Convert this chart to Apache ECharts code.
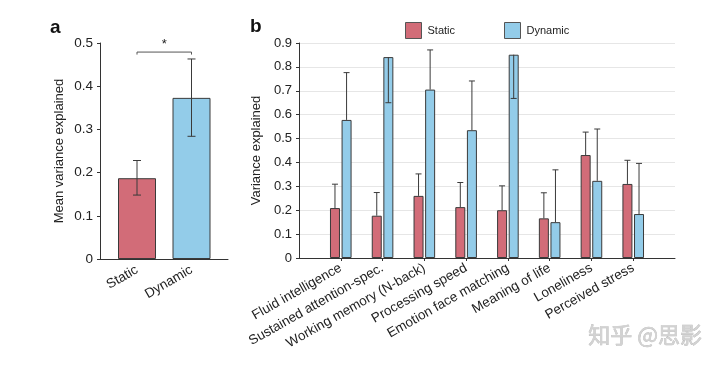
<!DOCTYPE html>
<html>
<head>
<meta charset="utf-8">
<script src="https://cdn.jsdelivr.net/npm/echarts@6/dist/echarts.min.js"></script>
<style>html,body{margin:0;padding:0;background:#fff;}#c{width:720px;height:368px;}</style>
</head>
<body>
<div id="c"></div>
<script>
// ---- Panel a data ----
const aCategories = ['Static', 'Dynamic'];
const aMeans = [0.187, 0.373];
const aErrLow = [0.148, 0.284];
const aErrHigh = [0.228, 0.463];
const aSigLevel = 0.479;
const aSigLabel = '*';

// ---- Panel b data ----
const bCategories = ['Fluid intelligence', 'Sustained attention-spec.', 'Working memory (N-back)', 'Processing speed', 'Emotion face matching', 'Meaning of life', 'Loneliness', 'Perceived stress'];
const bStatic = [0.209, 0.177, 0.260, 0.213, 0.200, 0.166, 0.431, 0.310];
const bStaticErr = [0.309, 0.274, 0.352, 0.316, 0.302, 0.273, 0.527, 0.409];
const bDynamic = [0.578, 0.841, 0.705, 0.535, 0.851, 0.150, 0.323, 0.184];
const bDynamicErr = [0.776, 0.650, 0.871, 0.741, 0.668, 0.369, 0.540, 0.396];

const watermark = '知乎 @思影';

const STATIC_COLOR = '#d26c78';
const DYNAMIC_COLOR = '#93cce9';
const EDGE = '#3a3a3a';
const FONT = 'Liberation Sans';

const chart = echarts.init(document.getElementById('c'), null, {renderer: 'canvas'});

const bAxisData = [''].concat(bCategories, ['']);
const pad = arr => ['-'].concat(arr, ['-']);

const B_BAR_W = 10, B_GAP = 1.6;
function errRenderer(offset, half) {
  return function (params, api) {
    const idx = api.value(0);
    const x = api.coord([idx, 0])[0] + offset;
    const y1 = api.coord([idx, api.value(1)])[1];
    const y2 = api.coord([idx, api.value(2)])[1];
    const st = {stroke: EDGE, lineWidth: 1};
    return {type: 'group', children: [
      {type: 'line', shape: {x1: x, y1: y1, x2: x, y2: y2}, style: st},
      {type: 'line', shape: {x1: x - half, y1: y2, x2: x + half, y2: y2}, style: st}
    ]};
  };
}

function aErrRenderer(params, api) {
  const idx = api.value(0);
  const x = api.coord([idx, 0])[0];
  const yl = api.coord([idx, api.value(1)])[1];
  const yh = api.coord([idx, api.value(2)])[1];
  const st = {stroke: EDGE, lineWidth: 1};
  return {type: 'group', children: [
    {type: 'line', shape: {x1: x, y1: yl, x2: x, y2: yh}, style: st},
    {type: 'line', shape: {x1: x - 4, y1: yl, x2: x + 4, y2: yl}, style: st},
    {type: 'line', shape: {x1: x - 4, y1: yh, x2: x + 4, y2: yh}, style: st}
  ]};
}

function sigRenderer(params, api) {
  const p0 = api.coord([api.value(0), api.value(2)]);
  const p1 = api.coord([api.value(1), api.value(2)]);
  return {type: 'group', children: [
    {type: 'polyline', shape: {points: [[p0[0], p0[1] + 2.5], [p0[0], p0[1]], [p1[0], p1[1]], [p1[0], p1[1] + 2.5]]},
      style: {stroke: '#555', lineWidth: 1, fill: null}},
    {type: 'text', x: (p0[0] + p1[0]) / 2, y: p0[1] - 1,
      style: {text: aSigLabel, fontSize: 13, fontFamily: FONT, fill: '#222', align: 'center', verticalAlign: 'bottom'}}
  ]};
}

const axisLabelStyle = {color: '#222', fontFamily: FONT};

const option = {
  animation: false,
  backgroundColor: '#fff',
  textStyle: {fontFamily: FONT},
  legend: {
    data: ['Static', 'Dynamic'],
    left: 405, top: 22, padding: 0,
    itemWidth: 16, itemHeight: 16, itemGap: 49,
    icon: 'rect',
    itemStyle: {borderWidth: 1, borderColor: '#555'},
    textStyle: {fontSize: 11, color: '#222', fontFamily: FONT, padding: [0, 0, 0, 1]}
  },
  graphic: [
    {type: 'text', left: 50, top: 18, style: {text: 'a', fontSize: 19, fontWeight: 'bold', fill: '#111', fontFamily: FONT}},
    {type: 'text', left: 250, top: 17, style: {text: 'b', fontSize: 19, fontWeight: 'bold', fill: '#111', fontFamily: FONT}},
    {type: 'text', left: 588, top: 323, style: {text: watermark, fontSize: 22, fill: '#d2d2d2', fontFamily: 'Noto Sans CJK SC', stroke: '#b8b8b8', lineWidth: 0.6}}
  ],
  grid: [
    {left: 100, top: 43, width: 128, height: 216},
    {left: 109.75, top: 43, width: 109, height: 216},
    {left: 299, top: 43, width: 376, height: 215}
  ],
  xAxis: [
    {gridIndex: 0, type: 'category', data: aCategories,
      axisLine: {lineStyle: {color: '#333', width: 1}}, axisTick: {show: false}, axisLabel: {show: false}},
    {gridIndex: 1, type: 'category', data: aCategories,
      axisLine: {show: false}, axisTick: {show: false},
      axisLabel: Object.assign({fontSize: 13.5, rotate: 30, margin: 10}, axisLabelStyle)},
    {gridIndex: 2, type: 'category', data: bAxisData, boundaryGap: false,
      axisLine: {lineStyle: {color: '#333', width: 1}},
      axisTick: {show: true, length: 3, lineStyle: {color: '#333'}, interval: (i, v) => v !== ''},
      axisLabel: Object.assign({fontSize: 13.5, rotate: 29.5, margin: 9, interval: 0}, axisLabelStyle)}
  ],
  yAxis: [
    {gridIndex: 0, type: 'value', min: 0, max: 0.5, interval: 0.1,
      name: 'Mean variance explained', nameLocation: 'middle', nameGap: 34,
      nameTextStyle: {fontSize: 13, color: '#222', fontFamily: FONT},
      axisLine: {show: true, lineStyle: {color: '#333'}},
      axisTick: {show: true, length: 3, lineStyle: {color: '#333'}},
      splitLine: {show: false},
      axisLabel: Object.assign({fontSize: 13.5, margin: 7}, axisLabelStyle)},
    {gridIndex: 1, type: 'value', min: 0, max: 0.5, interval: 0.1, show: false, splitLine: {show: false}},
    {gridIndex: 2, type: 'value', min: 0, max: 0.9, interval: 0.1,
      name: 'Variance explained', nameLocation: 'middle', nameGap: 32,
      nameTextStyle: {fontSize: 13, color: '#222', fontFamily: FONT},
      axisLine: {show: true, lineStyle: {color: '#333'}},
      axisTick: {show: true, length: 3, lineStyle: {color: '#333'}},
      splitLine: {show: true, lineStyle: {color: '#e6e6e6', width: 1}},
      axisLabel: Object.assign({fontSize: 13, margin: 7}, axisLabelStyle)}
  ],
  series: [
    {name: 'a-means', type: 'bar', xAxisIndex: 1, yAxisIndex: 1, barWidth: 38,
      data: aMeans.map((v, i) => ({value: v, itemStyle: {color: i === 0 ? STATIC_COLOR : DYNAMIC_COLOR}})),
      itemStyle: {borderColor: EDGE, borderWidth: 1}},
    {name: 'a-err', type: 'custom', xAxisIndex: 1, yAxisIndex: 1, z: 5,
      renderItem: aErrRenderer, data: aCategories.map((c, i) => [i, aErrLow[i], aErrHigh[i]])},
    {name: 'a-sig', type: 'custom', xAxisIndex: 1, yAxisIndex: 1, z: 5,
      renderItem: sigRenderer, data: [[0, 1, aSigLevel]]},
    {name: 'Static', type: 'bar', xAxisIndex: 2, yAxisIndex: 2, barWidth: B_BAR_W, barGap: '16%',
      data: pad(bStatic), itemStyle: {color: STATIC_COLOR, borderColor: EDGE, borderWidth: 1}},
    {name: 'Dynamic', type: 'bar', xAxisIndex: 2, yAxisIndex: 2, barWidth: B_BAR_W, barGap: '16%',
      data: pad(bDynamic), itemStyle: {color: DYNAMIC_COLOR, borderColor: EDGE, borderWidth: 1}},
    {name: 'b-static-err', type: 'custom', xAxisIndex: 2, yAxisIndex: 2, z: 5,
      renderItem: errRenderer(-(B_BAR_W + B_GAP) / 2, 3),
      data: bStatic.map((v, i) => [i + 1, v, bStaticErr[i]])},
    {name: 'b-dynamic-err', type: 'custom', xAxisIndex: 2, yAxisIndex: 2, z: 5,
      renderItem: errRenderer((B_BAR_W + B_GAP) / 2, 3),
      data: bDynamic.map((v, i) => [i + 1, v, bDynamicErr[i]])}
  ]
};
chart.setOption(option);
</script>
</body>
</html>
